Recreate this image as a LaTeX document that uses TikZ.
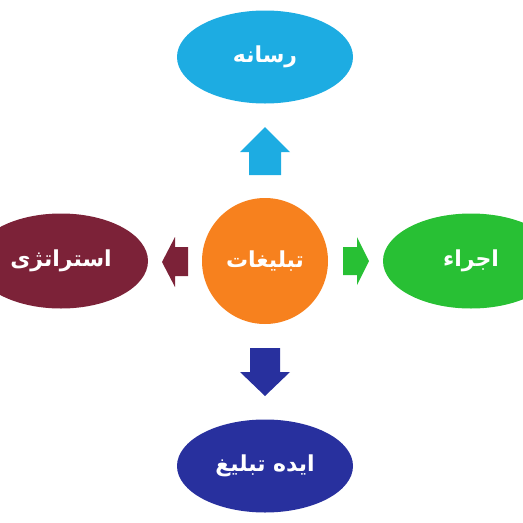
\documentclass[tikz,border=0pt]{standalone}
\usepackage{fontspec}
\usetikzlibrary{shapes.geometric}
\newfontfamily\arabicfont[Script=Arabic]{DejaVu Sans}
\TeXXeTstate=1
\definecolor{cyanC}{RGB}{29,172,226}
\definecolor{orangeC}{RGB}{247,129,30}
\definecolor{greenC}{RGB}{40,192,52}
\definecolor{maroonC}{RGB}{124,34,56}
\definecolor{navyC}{RGB}{40,48,158}
\newcommand\rtltext[1]{\raisebox{-3pt}{\beginR #1\endR}}
\begin{document}
\begin{tikzpicture}[x=1pt,y=-1pt,
  lab/.style={text=white,font=\arabicfont\bfseries\fontsize{22}{26}\selectfont},
  oval/.style={ellipse,inner sep=0pt,minimum width=176pt,minimum height=93pt},
  hub/.style={circle,inner sep=0pt,minimum size=126pt,fill=orangeC}]
\useasboundingbox (0,0) rectangle (523,523);
\clip (0,0) rectangle (523,523);
\node[hub,lab] (center) at (265,261) {\rtltext{تبلیغات}};
\node[oval,fill=cyanC,lab] (media) at (265,57) {\rtltext{رسانه}};
\node[oval,fill=navyC,lab] (idea) at (265,466) {\rtltext{ایده تبلیغ}};
\node[oval,fill=maroonC,lab,minimum width=174pt,minimum height=95pt] (strategy) at (61,261) {\rtltext{استراتژی}};
\node[oval,fill=greenC,lab,minimum width=176pt,minimum height=95pt] (exec) at (471,261) {\rtltext{اجراء}};
% block arrows
\fill[cyanC] (249,175) -- (249,152) -- (240,152) -- (265,127) -- (290,152) -- (281,152) -- (281,175) -- cycle;
\fill[navyC] (250,348) -- (280,348) -- (280,372) -- (290,372) -- (265,396) -- (240,372) -- (250,372) -- cycle;
\fill[maroonC] (188,247) -- (175,247) -- (175,237) -- (162,262) -- (175,287) -- (175,276) -- (188,276) -- cycle;
\fill[greenC] (343,247) -- (357,247) -- (357,237) -- (369,261) -- (357,285) -- (357,275) -- (343,275) -- cycle;
\end{tikzpicture}
\end{document}
